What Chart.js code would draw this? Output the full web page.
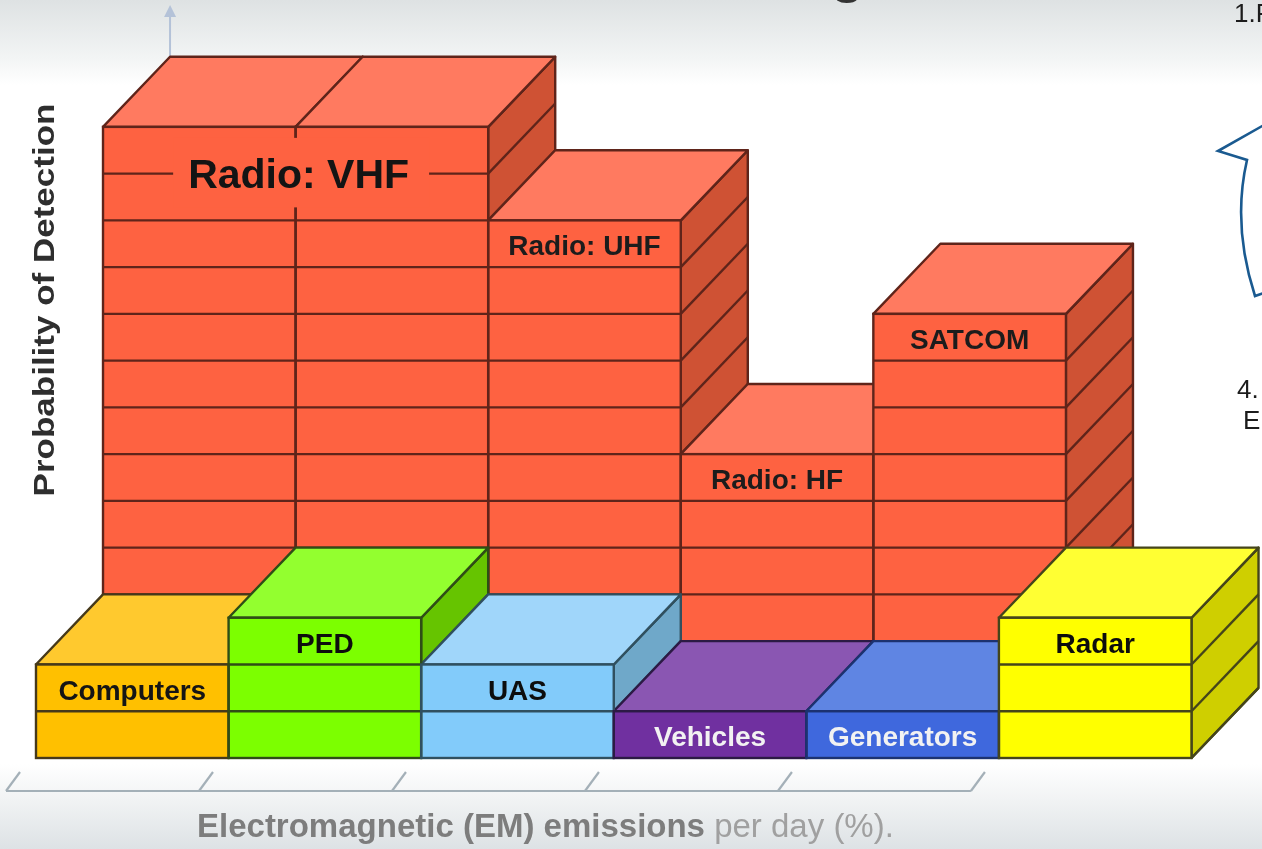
<!DOCTYPE html>
<html>
<head>
<meta charset="utf-8">
<style>
html,body{margin:0;padding:0;background:#fff;overflow:hidden}
canvas{display:block;filter:blur(0.7px)}
</style>
<script src="https://cdn.jsdelivr.net/npm/chart.js@4"></script>
</head>
<body>
<canvas id="c" width="1262" height="849"></canvas>
<script>
// ---- data ----
const frontLabels = ['Computers','PED','UAS','Vehicles','Generators','Radar'];
const frontValues = [2,3,2,1,1,3];
const backLabels  = ['Radio: VHF','','Radio: UHF','Radio: HF','SATCOM'];
const backValues  = [12,12,10,5,8];
const xAxisBold = 'Electromagnetic (EM) emissions';
const xAxisLight = ' per day (%).';
const yAxisTitle = 'Probability of Detection';

// ---- styles ----
const frontFace = ['#ffc000','#7cff00','#82cbfa','#7030a0','#3f68dd','#ffff00'];
const frontTop  = ['#ffc92e','#93ff2f','#a0d6fa','#8a56b2','#5f85e3','#ffff33'];
const frontSide = ['#cc9a00','#66c400','#6fa8c9','#5a2680','#3253b0','#cfcf00'];
const frontEdge = ['#46391a','#2f4d16','#30505f','#2c1a45','#1c3270','#45451a'];
const frontText = ['#151515','#0d0d0d','#0d0d0d','#f2f2f2','#f2f2f2','#0d0d0d'];
const redFace = '#fe6241', redTop = '#ff7a60', redSide = '#cf5234', redEdge = '#5f241a';
const DEPTH_X = 0.348, DEPTH_Y = 1.5;

const backStart = backValues.map((_,i)=> i + 0.5 + DEPTH_X);
const frontStart = frontValues.map((_,i)=> i + 0.5);

const FONT = '"Liberation Sans", Arial, sans-serif';
const EDGE = 2.4;

function line(ctx,x1,y1,x2,y2){ctx.beginPath();ctx.moveTo(x1,y1);ctx.lineTo(x2,y2);ctx.stroke();}
function poly(ctx,pts,fill,stroke){
  ctx.beginPath();pts.forEach((p,i)=>i?ctx.lineTo(p[0],p[1]):ctx.moveTo(p[0],p[1]));ctx.closePath();
  ctx.fillStyle=fill;ctx.fill();
  ctx.strokeStyle=stroke;ctx.lineWidth=EDGE;ctx.lineJoin='round';ctx.stroke();
}

const blocks = {
  id:'blocks',
  beforeDraw(chart){
    const {ctx,width,height}=chart;
    const g=ctx.createLinearGradient(0,0,0,height);
    g.addColorStop(0,'#dee2e3');
    g.addColorStop(0.07,'#f3f5f5');
    g.addColorStop(0.1,'#ffffff');
    g.addColorStop(0.9,'#ffffff');
    g.addColorStop(0.945,'#f0f2f3');
    g.addColorStop(1,'#dde2e5');
    ctx.save();ctx.fillStyle=g;ctx.fillRect(0,0,width,height);ctx.restore();

    // cropped title and neighbouring slide text
    ctx.save();
    ctx.fillStyle='#333';ctx.font='66px '+FONT;ctx.textBaseline='alphabetic';
    ctx.fillText('g',829,-11);
    ctx.fillStyle='#1c1c1c';ctx.font='26px '+FONT;
    ctx.fillText('1.F',1234,22);
    ctx.fillText('4.',1237,398);
    ctx.fillText('E.',1243,429);
    ctx.strokeStyle='#1a5a90';ctx.lineWidth=2.6;
    ctx.beginPath();
    ctx.moveTo(1264,125);ctx.lineTo(1218,151);ctx.lineTo(1247,160);
    ctx.quadraticCurveTo(1232,225,1255,296);ctx.lineTo(1264,293);
    ctx.stroke();
    ctx.restore();

    // y axis arrow and x axis bracket, from the scales
    const xS=chart.scales.x, yS=chart.scales.y;
    const ax=xS.getPixelForValue(2*DEPTH_X);
    const top=yS.getPixelForValue(2*DEPTH_Y+12);
    ctx.save();
    ctx.strokeStyle='#b4c2d8';ctx.fillStyle='#b4c2d8';ctx.lineWidth=2;
    line(ctx,ax,top,ax,15);
    ctx.beginPath();ctx.moveTo(ax,5);ctx.lineTo(ax-6,17);ctx.lineTo(ax+6,17);ctx.closePath();ctx.fill();
    ctx.strokeStyle='#a4b0b8';ctx.lineWidth=2.2;
    const off=-30,yb=791,yt=772;
    line(ctx,xS.getPixelForValue(0)+off,yb,xS.getPixelForValue(5)+off+2,yb);
    for(let i=0;i<=5;i++){const p=xS.getPixelForValue(i)+off+i*0.4;line(ctx,p,yb,p+14,yt);}
    ctx.restore();

    // axis titles
    ctx.save();
    ctx.textBaseline='alphabetic';
    ctx.font='bold 33px '+FONT;
    const w1=ctx.measureText(xAxisBold).width;
    ctx.fillStyle='#7d7d7d';ctx.fillText(xAxisBold,197,837);
    ctx.font='33px '+FONT;ctx.fillStyle='#a0a0a0';ctx.fillText(xAxisLight,197+w1,837);
    ctx.restore();
    ctx.save();
    ctx.translate(54,300);ctx.rotate(-Math.PI/2);ctx.scale(1,0.86);
    ctx.font='bold 35px '+FONT;ctx.fillStyle='#2e2e2e';ctx.textAlign='center';ctx.textBaseline='alphabetic';
    ctx.fillText(yAxisTitle,0,0);
    ctx.restore();
  },
  beforeDatasetDraw(chart,args){
    const meta=args.meta, ds=chart.data.datasets[args.index], ctx=chart.ctx;
    const xS=chart.scales.x,yS=chart.scales.y;
    const dx=xS.getPixelForValue(DEPTH_X)-xS.getPixelForValue(0);
    const dy=yS.getPixelForValue(0)-yS.getPixelForValue(DEPTH_Y);
    ctx.save();
    meta.data.forEach((el,i)=>{
      const p=el.getProps(['x','y','base','width'],true);
      const l=p.x-p.width/2,r=p.x+p.width/2;
      const s=ds.sideColor[i],t=ds.topColor[i],e=ds.edgeColor[i];
      poly(ctx,[[r,p.y],[r+dx,p.y-dy],[r+dx,p.base-dy],[r,p.base]],s,e);
      ctx.strokeStyle=e;ctx.lineWidth=EDGE;
      const n=ds.units[i],start=ds.data[i].y[0];
      for(let k=0;k<=n;k++){const Y=yS.getPixelForValue(start+k);line(ctx,r,Y,r+dx,Y-dy);}
      poly(ctx,[[l,p.y],[l+dx,p.y-dy],[r+dx,p.y-dy],[r,p.y]],t,e);
    });
    ctx.restore();
  },
  afterDatasetDraw(chart,args){
    const meta=args.meta, ds=chart.data.datasets[args.index], ctx=chart.ctx;
    const yS=chart.scales.y;
    ctx.save();
    meta.data.forEach((el,i)=>{
      const p=el.getProps(['x','y','base','width'],true);
      const l=p.x-p.width/2;
      const e=ds.edgeColor[i];
      ctx.strokeStyle=e;ctx.lineWidth=EDGE;
      ctx.strokeRect(l,p.y,p.width,p.base-p.y);
      const n=ds.units[i],start=ds.data[i].y[0];
      for(let k=1;k<n;k++){const Y=yS.getPixelForValue(start+k);line(ctx,l,Y,l+p.width,Y);}
    });
    meta.data.forEach((el,i)=>{
      const label=ds.blockLabels[i]; if(!label) return;
      const p=el.getProps(['x','y','base','width'],true);
      const n=ds.units[i],start=ds.data[i].y[0];
      ctx.textAlign='center';ctx.textBaseline='middle';
      if(label==='Radio: VHF'){
        const cx=p.x+p.width/2, cy=yS.getPixelForValue(start+n-1);
        const unitH=yS.getPixelForValue(start+n-1)-p.y;
        ctx.font='bold 41px '+FONT;
        const w=ctx.measureText(label).width;
        ctx.fillStyle=ds.backgroundColor[i];
        ctx.fillRect(cx+3-w/2-15,p.y+11,w+35,2*unitH-24);
        ctx.fillStyle='#141414';
        ctx.fillText(label,cx+3,cy+3);
      }else{
        const cy=(p.y+yS.getPixelForValue(start+n-1))/2;
        ctx.font='bold 28px '+FONT;
        ctx.fillStyle=ds.textColor[i];
        ctx.fillText(label,p.x,cy+4);
      }
    });
    ctx.restore();
  }
};

new Chart(document.getElementById('c'),{
  type:'bar',
  plugins:[blocks],
  data:{datasets:[
    {
      label:'Front row',
      data:frontValues.map((v,i)=>({x:frontStart[i],y:[0,v]})),
      units:frontValues,blockLabels:frontLabels,
      backgroundColor:frontFace,topColor:frontTop,sideColor:frontSide,edgeColor:frontEdge,textColor:frontText,
      borderWidth:0,barThickness:192.6,grouped:false,clip:false
    },
    {
      label:'Back row',
      data:backValues.map((v,i)=>({x:backStart[i],y:[DEPTH_Y,DEPTH_Y+v]})),
      units:backValues,blockLabels:backLabels,
      backgroundColor:backValues.map(()=>redFace),
      topColor:backValues.map(()=>redTop),
      sideColor:backValues.map(()=>redSide),
      edgeColor:backValues.map(()=>redEdge),
      textColor:backValues.map(()=>'#1c1c1c'),
      borderWidth:0,barThickness:192.6,grouped:false,clip:false
    }
  ]},
  options:{
    responsive:false,animation:false,devicePixelRatio:1,
    layout:{padding:{left:36,right:70.5,top:10,bottom:91}},
    plugins:{legend:{display:false},tooltip:{enabled:false},title:{display:false}},
    scales:{
      x:{type:'linear',min:0,max:6,offset:false,display:false,grid:{display:false}},
      y:{type:'linear',min:0,max:16,display:false,grid:{display:false}}
    }
  }
});
</script>
</body>
</html>
